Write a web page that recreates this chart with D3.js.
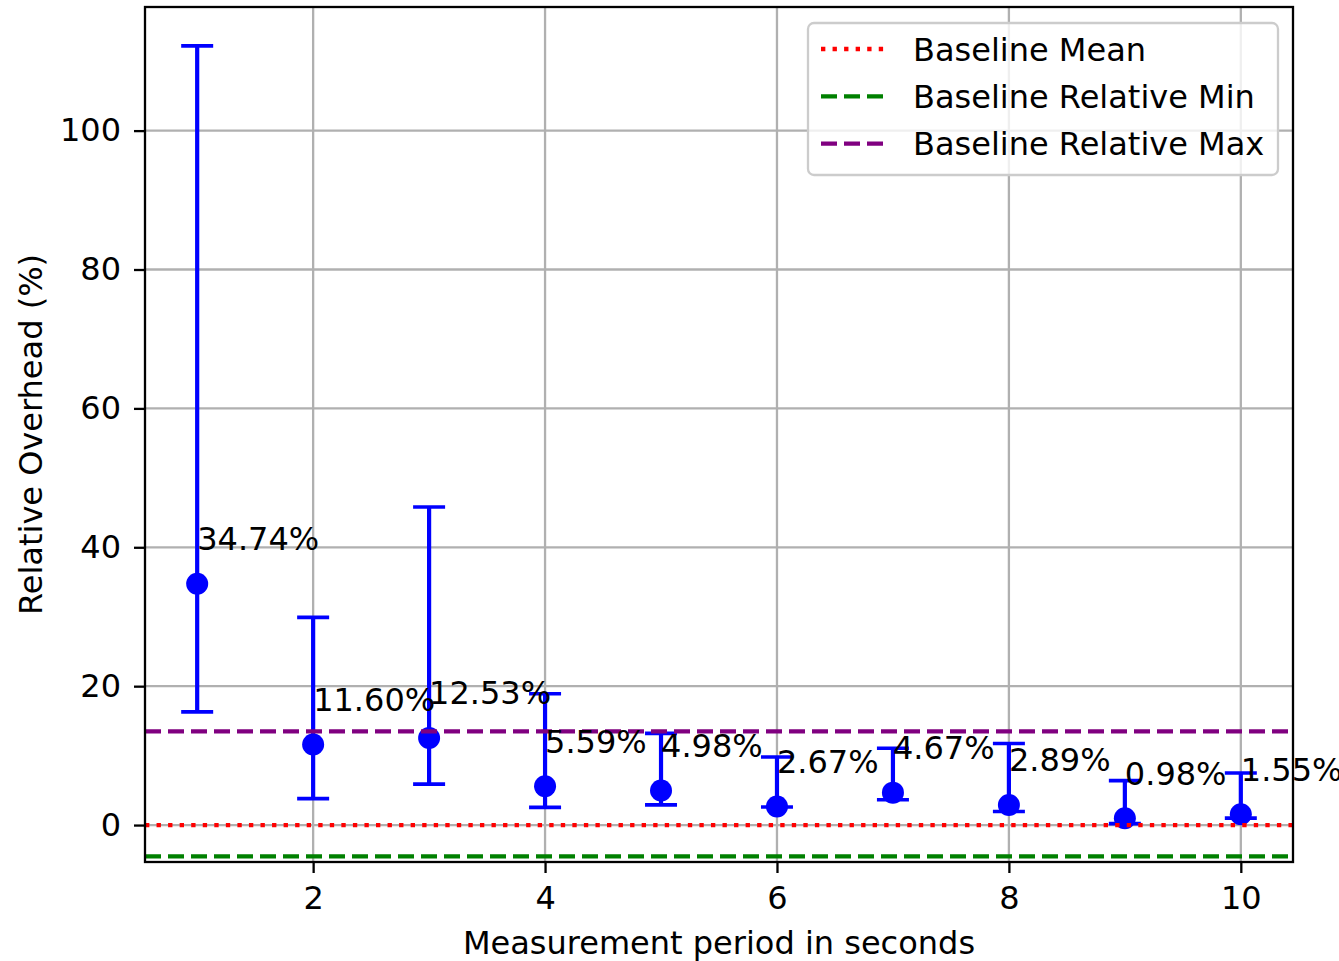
<!DOCTYPE html>
<html>
<head>
<meta charset="utf-8">
<script src="https://cdn.jsdelivr.net/npm/d3@7"></script>
<style>
	body { margin: 0; background: #fff; }
	svg { font-family: "DejaVu Sans", sans-serif; }
</style>
</head>
<body>
<div id="chart"></div>
<script>
// measurement periods (s) and relative overhead (%)
const periods = [1, 2, 3, 4, 5, 6, 7, 8, 9, 10];
const means = [34.74, 11.60, 12.53, 5.59, 4.98, 2.67, 4.67, 2.89, 0.98, 1.55];
const lows = [16.3, 3.8, 5.9, 2.55, 2.9, 2.6, 3.65, 1.95, 0.2, 1.0];
const highs = [112.2, 29.9, 45.8, 18.9, 13.2, 9.8, 11.05, 11.75, 6.4, 7.5];

const baselineNames = ["Baseline Mean", "Baseline Relative Min", "Baseline Relative Max"];
const baselineValues = [0, -4.5, 13.5];
const baselineColors = ["red", "green", "purple"];

const xTicks = [2, 4, 6, 8, 10];
const yTicks = [0, 20, 40, 60, 80, 100];

const W = 1339, H = 961;
const margin = { top: 7, right: 46, bottom: 99, left: 145 };
const width = W - margin.left - margin.right;
const height = H - margin.top - margin.bottom;
const fontSize = '32px';

const svg = d3.select('#chart').append('svg')
	.attr('width', W)
	.attr('height', H);

const chart = svg.append('g')
	.attr('transform', `translate(${margin.left}, ${margin.top})`);

const x = d3.scaleLinear().domain([0.55, 10.45]).range([0, width]);
const y = d3.scaleLinear().domain([-5.32, 117.8]).range([height, 0]);

// grid
chart.append('g').selectAll('line.gx')
	.data(xTicks).join('line')
	.attr('x1', d => x(d)).attr('x2', d => x(d))
	.attr('y1', 0).attr('y2', height)
	.attr('stroke', '#b0b0b0').attr('stroke-width', 2.3);
chart.append('g').selectAll('line.gy')
	.data(yTicks).join('line')
	.attr('y1', d => y(d)).attr('y2', d => y(d))
	.attr('x1', 0).attr('x2', width)
	.attr('stroke', '#b0b0b0').attr('stroke-width', 2.3);

// error bars
const data = periods.map((p, i) => ({ p, m: means[i], lo: lows[i], hi: highs[i] }));
const eb = chart.append('g').selectAll('g').data(data).join('g');
const cap = 16;
eb.append('line')
	.attr('x1', d => x(d.p)).attr('x2', d => x(d.p))
	.attr('y1', d => y(d.lo)).attr('y2', d => y(d.hi))
	.attr('stroke', 'blue').attr('stroke-width', 4.2);
eb.append('line')
	.attr('x1', d => x(d.p) - cap).attr('x2', d => x(d.p) + cap)
	.attr('y1', d => y(d.hi)).attr('y2', d => y(d.hi))
	.attr('stroke', 'blue').attr('stroke-width', 3.6);
eb.append('line')
	.attr('x1', d => x(d.p) - cap).attr('x2', d => x(d.p) + cap)
	.attr('y1', d => y(d.lo)).attr('y2', d => y(d.lo))
	.attr('stroke', 'blue').attr('stroke-width', 3.6);
eb.append('circle')
	.attr('cx', d => x(d.p)).attr('cy', d => y(d.m))
	.attr('r', 11).attr('fill', 'blue');

// baseline lines
const dashes = ['4.35,7.2', '16,7', '16,7'];
chart.append('g').selectAll('line')
	.data(baselineValues).join('line')
	.attr('x1', 0).attr('x2', width)
	.attr('y1', d => y(d)).attr('y2', d => y(d))
	.attr('stroke', (d, i) => baselineColors[i])
	.attr('stroke-width', 4.35)
	.attr('stroke-dasharray', (d, i) => dashes[i]);

// value labels
chart.append('g').selectAll('text')
	.data(data).join('text')
	.attr('x', d => x(d.p))
	.attr('y', d => y(d.m + 5) + 1)
	.style('font-size', fontSize)
	.attr('fill', 'black')
	.text(d => d.m.toFixed(2) + '%');

// spines
chart.append('rect')
	.attr('width', width).attr('height', height)
	.attr('fill', 'none').attr('stroke', 'black').attr('stroke-width', 2.3);

// axes
const xAxis = d3.axisBottom(x).tickValues(xTicks).tickSize(11).tickPadding(13).tickFormat(d3.format('d'));
const yAxis = d3.axisLeft(y).tickValues(yTicks).tickSize(11).tickPadding(13).tickFormat(d3.format('d'));

const xg = chart.append('g').attr('transform', `translate(0, ${height})`).call(xAxis);
const yg = chart.append('g').call(yAxis);
[xg, yg].forEach(g => {
	g.select('.domain').remove();
	g.selectAll('line').attr('stroke', 'black').attr('stroke-width', 2.3);
	g.selectAll('text').style('font-size', fontSize).style('font-family', '"DejaVu Sans"').attr('fill', 'black');
});

// axis labels
svg.append('text')
	.attr('x', margin.left + width / 2)
	.attr('y', 954)
	.attr('text-anchor', 'middle')
	.style('font-size', fontSize)
	.text('Measurement period in seconds');

svg.append('text')
	.attr('transform', `translate(42, ${margin.top + height / 2}) rotate(-90)`)
	.attr('text-anchor', 'middle')
	.style('font-size', fontSize)
	.text('Relative Overhead (%)');

// legend
const legend = svg.append('g').attr('transform', 'translate(808, 23)');
legend.append('rect')
	.attr('width', 470).attr('height', 152)
	.attr('rx', 6).attr('ry', 6)
	.attr('fill', 'white').attr('fill-opacity', 0.8)
	.attr('stroke', '#cccccc').attr('stroke-width', 2.3);
const items = legend.selectAll('g.item')
	.data(baselineNames).join('g')
	.attr('transform', (d, i) => `translate(0, ${26 + i * 47.3})`);
items.append('line')
	.attr('x1', 13).attr('x2', 78)
	.attr('stroke', (d, i) => baselineColors[i])
	.attr('stroke-width', 4.35)
	.attr('stroke-dasharray', (d, i) => dashes[i]);
items.append('text')
	.attr('x', 105).attr('y', 11.5)
	.style('font-size', fontSize)
	.text(d => d);
</script>
</body>
</html>
